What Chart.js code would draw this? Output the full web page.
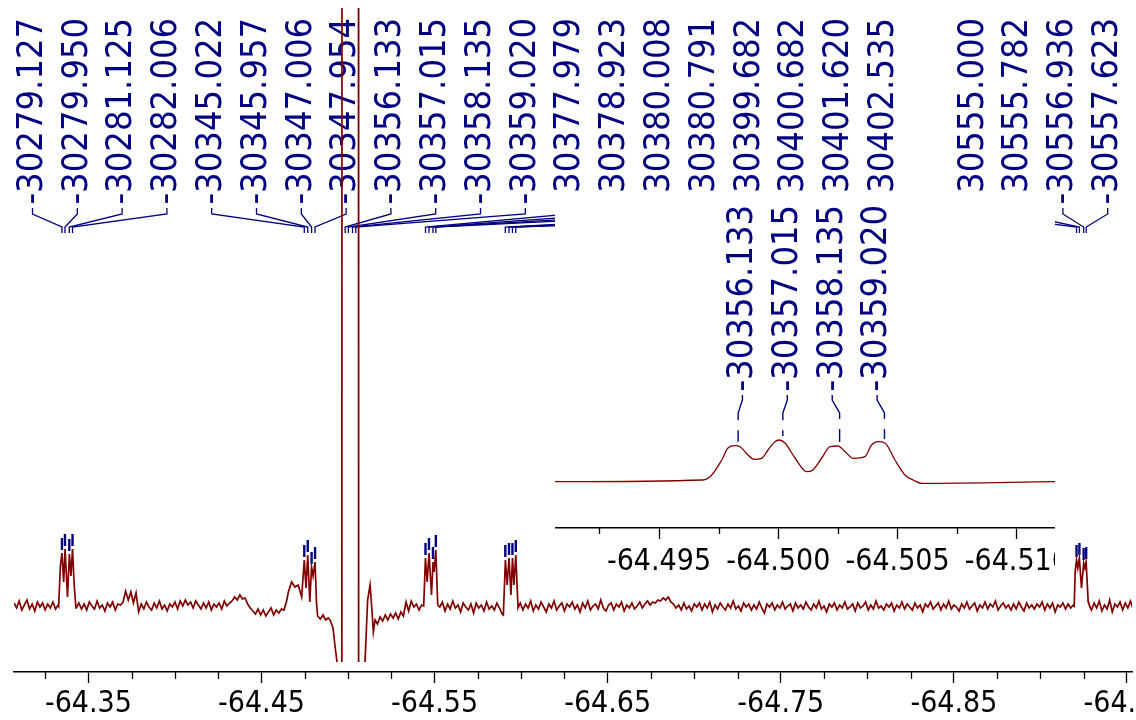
<!DOCTYPE html>
<html>
<head>
<meta charset="utf-8">
<script src="https://cdn.jsdelivr.net/npm/chart.js@4.4.1/dist/chart.umd.min.js"></script>
<style>
  html, body { margin: 0; padding: 0; background: #fff; }
  #wrap { position: relative; width: 1136px; height: 720px; overflow: hidden; }
  #main { position: absolute; left: 0; top: 0; }
  #inset { position: absolute; left: 555px; top: 193px; background: #fff; }
</style>
</head>
<body>
<div id="wrap">
  <canvas id="main" width="1136" height="720"></canvas>
  <canvas id="inset" width="500" height="400"></canvas>
</div>
<script>
// spectrometer frequency (MHz), Hz -> ppm
const SF = 470.65;

// peak picks (Hz)
const peaksA = [-30279.127, -30279.950, -30281.125, -30282.006];
const peaksB = [-30345.022, -30345.957, -30347.006, -30347.954];
const peaksC = [-30356.133, -30357.015, -30358.135, -30359.020];
const peaksD = [-30377.979, -30378.923, -30380.008, -30380.791];
const peaksE = [-30399.682, -30400.682, -30401.620, -30402.535];
const peaksF = [-30555.000, -30555.782, -30556.936, -30557.623];

// axis ticks (ppm)
const mainTicks = [-64.35, -64.45, -64.55, -64.65, -64.75, -64.85, -64.95];
const insetTicks = [-64.495, -64.500, -64.505, -64.510];

// baseline pieces, sampled every 0.0015 ppm from the given start
const noiseStep = 0.0015;
const base0Start = -64.3070;
const base0 = [3, -2, 5, -4, 1, 6, -3, 2, -5, 4, -1, 3, -4, 2, -2, 4, -3, 1];
const base1Start = -64.3430;
const base1 = [-2, 3, -3, 2, -4, 4, 0, -3, 5, -2, 1, -5, 3, -1, 4, -4, 2, 1, 4, 15,
  6, 14, 3, 13, -6, 2, -3, 4, -1, -4, 3, -2, 5, -3, 1, -5, 2, -1, 4, -3,
  5, 0, 6, 1, 4, -2, 5, 1, -3, 3, -2, 4, -4, 2, -1, 3, -3, 5, 0, 3,
  5, 9, 6, 11, 7, 8, 2, -2, -5, -8, -3, -9, -4, -10, -6, -2, -9, -4, -7, -3,
  -4, 5];
const base2Start = -64.4825;
const base2 = [-10, -13, -9, -14, -12];
const base3Start = -64.5170;
const base3 = [-18, -11, -15, -9, -14, -8, -12, -7, -13, -6, -10, 4, -5, 5, -1, 2, -4, 1];
const base4Start = -64.5530;
const base4 = [-1, 4, -5, 2, -3, 5, -2, 1, -6, 3, -1, -4, 2, -7, 3, -2, 1, -5, 4, -3,
  0, -4, 3, -2, -8];
const base5Start = -64.5995;
const base5 = [3, -4, 2, -2, 5, -5, 1, -3, 4, -1,
  -6, 2, -2, 5, -4, 0, 3, -5, 2, -1,
  4, -3, 1, -6, 3, -2, 5, -4, 0, 2,
  -3, 6, -2, -5, 1, 3, -4, 2, -1, 4,
  -5, 1, -2, 3, -3, 0, 4, -2, 2, 5,
  1, 4, 3, 6, 5, 8, 6, 9, 4, 2,
  -2, 1, -4, 3, -3, 0, -5, 2, -1, 3,
  -4, 2, -2, 4, -6, 1, -3, 3, -1, -4,
  2, -2, 5, -3, 0, -5, 3, -1, 2, -4,
  1, -3, 4, -2, -7, 2, -1, 3, -4, 1,
  -2, 4, -3, 0, 2, -5, 3, -2, 1, -3,
  4, -1, -4, 2, -2, 5, -3, 0, -6, 2,
  -1, 3, -4, 1, -2, 4, -3, -1, 2, -5,
  3, -2, 0, 4, -4, 1, -3, 5, -2, 0,
  -4, 2, -1, 3, -5, 1, -2, 4, -3, 2,
  -1, -4, 3, -2, 1, -6, 2, -1, 4, -3,
  0, 3, -4, 2, -2, 5, -3, 1, -1, -5,
  2, -2, 4, -3, 0, 3, -5, 1, -2, 4,
  -3, 2, -1, 5, -4, 0, 3, -2, 1, -4,
  2, -3, 4, -1, -5, 3, -2, 1, -3, 2,
  -1, 4, -4, 2, -2, 3, -6, 1, -1, 3,
  -3, 2, -2, 1];
const base6Start = -64.9280;
const base6 = [2, -4, 3, -2, 5, -5, 1, -3, 6, -6, 2, -1, 4, -4, 3, -2, 5, -3];

// multiplets [ppm, intensity]
const traceA = [[-64.3328, 0], [-64.3338, 40], [-64.3347, 53], [-64.3357, 24], [-64.3365, 57],
  [-64.3379, 9], [-64.3390, 52], [-64.3399, 30], [-64.3408, 57], [-64.3418, 20], [-64.3428, -2]];
const traceB = [[-64.4655, 14], [-64.4674, 24], [-64.4693, 19], [-64.4712, 21], [-64.4732, 9],
  [-64.4747, 46], [-64.4757, 18], [-64.4767, 51], [-64.4779, 4], [-64.4789, 39],
  [-64.4798, 30], [-64.4809, 44], [-64.4818, 2], [-64.4824, -10]];
const traceC = [[-64.4896, -14], [-64.4913, -22], [-64.4924, -39], [-64.4936, -56], [-64.4948, -100],
  [-64.4964, -200], [-64.4967, 3000], [-64.4982, 3300], [-64.5000, 3400], [-64.5024, 3300],
  [-64.5043, 3400], [-64.5058, 3000], [-64.5061, -200], [-64.5086, -120], [-64.5098, -56],
  [-64.5113, 6], [-64.5127, 21], [-64.5138, -4], [-64.5146, -26], [-64.5156, -14]];
const traceD = [[-64.5437, 0], [-64.5447, 48], [-64.5457, 24], [-64.5468, 53], [-64.5482, 11],
  [-64.5491, 44], [-64.5497, 34], [-64.5507, 56], [-64.5518, 1]];
const traceE = [[-64.5897, -9], [-64.5909, 46], [-64.5919, 21], [-64.5930, 48], [-64.5941, 11],
  [-64.5950, 48], [-64.5958, 21], [-64.5969, 51], [-64.5982, -2]];
const traceF = [[-64.9195, 0], [-64.9201, 35], [-64.92085, 46], [-64.9216, 38], [-64.9225, 48],
  [-64.9237, 18], [-64.9250, 43], [-64.9257, 38], [-64.9264, 44], [-64.9276, 4]];

// inset: expanded main multiplet
const insetPpm = [-64.49064, -64.49684, -64.49721, -64.49763, -64.49789, -64.49819, -64.4984,
  -64.49873, -64.49898, -64.4993, -64.49957, -64.49986, -64.50003, -64.50028, -64.5007,
  -64.50119, -64.50145, -64.50182, -64.50217, -64.5025, -64.5028, -64.50313, -64.50363,
  -64.50391, -64.50418, -64.50447, -64.50489, -64.50531, -64.50565, -64.50601, -64.5116];
const insetInt = [0, 1.7, 6.7, 21.7, 33.7, 36, 35, 26.7, 22.4, 23.4, 31.7, 40, 41.7, 38.7, 23.7,
  10, 11.7, 23.7, 35, 35.7, 30, 23.4, 25, 36.7, 40, 38.7, 21.7, 6.7, 1.7, -1.6, 0];

const NAVY = '#000080';
const RED = '#800000';
const FAMILY = "'DejaVu Sans Condensed', 'DejaVu Sans', sans-serif";
const LABEL_FONT = '36px ' + FAMILY;

// build spectrum table
const spectrum = [];
function addBase(start, vals) {
  vals.forEach((v, k) => spectrum.push({ x: start - k * noiseStep, y: v }));
}
function addTrace(pairs) {
  pairs.forEach(p => spectrum.push({ x: p[0], y: p[1] }));
}
addBase(base0Start, base0); addTrace(traceA);
addBase(base1Start, base1); addTrace(traceB);
addBase(base2Start, base2); addTrace(traceC);
addBase(base3Start, base3); addTrace(traceD);
addBase(base4Start, base4); addTrace(traceE);
addBase(base5Start, base5); addTrace(traceF);
addBase(base6Start, base6);

const insetData = insetPpm.map((p, i) => ({ x: p, y: insetInt[i] }));

function topOf(data, ppm, win) {
  let best = -Infinity;
  data.forEach(d => { if (Math.abs(d.x - ppm) <= win && d.y > best) best = d.y; });
  return best;
}

function drawRotated(ctx, text, x, y) {
  ctx.save();
  ctx.translate(x, y);
  ctx.rotate(-Math.PI / 2);
  ctx.textAlign = 'left';
  ctx.textBaseline = 'middle';
  ctx.fillText(text, 0, 0);
  ctx.restore();
}

const topLabels = {
  id: 'topLabels',
  beforeDatasetsDraw(chart) {
    const { ctx, scales: { x, y }, chartArea } = chart;
    const groups = [peaksA, peaksB, peaksC, peaksD, peaksE, peaksF];
    let slot = 0;
    ctx.save();
    ctx.fillStyle = NAVY;
    ctx.strokeStyle = NAVY;
    ctx.font = LABEL_FONT;
    groups.forEach((g, gi) => {
      if (gi === 5) slot++; // one empty slot before the last multiplet
      g.forEach(hz => {
        const sx = 32.5 + slot * 44.8;
        const ppm = hz / SF;
        const px = x.getPixelForValue(ppm);
        drawRotated(ctx, hz.toFixed(3), sx, 204.6);
        ctx.lineWidth = 1.3;
        ctx.beginPath();
        ctx.moveTo(sx, 208);
        ctx.lineTo(sx, 214);
        ctx.lineTo(px, 227);
        ctx.lineTo(px, 233);
        ctx.stroke();
        const py = y.getPixelForValue(topOf(spectrum, ppm, 0.0004));
        if (py - 16 > chartArea.top) {
          ctx.lineWidth = 2.4;
          ctx.beginPath();
          ctx.moveTo(px, py - 3);
          ctx.lineTo(px, py - 15);
          ctx.stroke();
        }
        slot++;
      });
    });
    ctx.restore();
  }
};

function minorTicks(values, len) {
  return {
    id: 'minorTicks',
    afterDraw(chart) {
      const { ctx, scales: { x } } = chart;
      const yb = chart.chartArea.bottom;
      ctx.save();
      ctx.strokeStyle = '#000';
      ctx.lineWidth = 1.3;
      values.forEach(v => {
        const px = Math.round(x.getPixelForValue(v)) + 0.5;
        ctx.beginPath();
        ctx.moveTo(px, yb);
        ctx.lineTo(px, yb + len);
        ctx.stroke();
      });
      ctx.restore();
    }
  };
}

const mainMinor = [];
for (let k = 0; k <= 26; k++) { if (k % 4 !== 1) mainMinor.push(-64.325 - k * 0.025); }
const insetMinor = [-64.4925, -64.4975, -64.5025, -64.5075];

function xAxis(min, max, ticks, digits, height, pad) {
  return {
    type: 'linear', min, max, reverse: true,
    afterBuildTicks: s => { s.ticks = ticks.map(v => ({ value: v })); },
    afterFit: s => { s.height = height; s.paddingLeft = 0; s.paddingRight = 0; },
    grid: { display: true, drawOnChartArea: false, drawTicks: true, tickLength: 11, tickColor: '#000', tickWidth: 1.3 },
    border: { display: true, color: '#000', width: 1.6 },
    ticks: {
      autoSkip: false, maxRotation: 0, padding: pad, color: '#000',
      font: { family: FAMILY, size: 30 },
      callback: v => Number(v).toFixed(digits)
    }
  };
}

new Chart(document.getElementById('main').getContext('2d'), {
  type: 'line',
  data: {
    datasets: [{
      data: spectrum, borderColor: RED, borderWidth: 1.7, pointRadius: 0,
      tension: 0, clip: { left: 0, top: 0, right: 0, bottom: -10 }
    }]
  },
  options: {
    responsive: false, animation: false, events: [],
    layout: { padding: { left: 14, right: 4, top: 8, bottom: 0 } },
    plugins: { legend: { display: false }, tooltip: { enabled: false } },
    scales: {
      x: xAxis(-64.9529, -64.3070, mainTicks, 2, 48, 3),
      y: { display: false, min: -66, max: 598 }
    }
  },
  plugins: [topLabels, minorTicks(mainMinor, 7)]
});

const insetLabels = {
  id: 'insetLabels',
  afterDatasetsDraw(chart) {
    const { ctx, scales: { x, y } } = chart;
    const pxs = peaksC.map(hz => x.getPixelForValue(hz / SF));
    const mid = pxs.reduce((a, b) => a + b, 0) / pxs.length;
    ctx.save();
    ctx.fillStyle = NAVY;
    ctx.strokeStyle = NAVY;
    ctx.font = LABEL_FONT;
    peaksC.forEach((hz, i) => {
      const sx = mid - 1.5 + (i - 1.5) * 44.9;
      const px = pxs[i];
      drawRotated(ctx, hz.toFixed(3), sx, 198.6);
      const py = y.getPixelForValue(topOf(insetData, hz / SF, 0.0002));
      ctx.lineWidth = 1.4;
      ctx.setLineDash([26, 10]);
      ctx.beginPath();
      ctx.moveTo(sx, 202);
      ctx.lineTo(sx, 207);
      ctx.lineTo(px, 220);
      ctx.lineTo(px, py - 4);
      ctx.stroke();
    });
    ctx.restore();
  }
};

new Chart(document.getElementById('inset').getContext('2d'), {
  type: 'line',
  data: {
    datasets: [{
      data: insetData, borderColor: RED, borderWidth: 1.3, pointRadius: 0,
      cubicInterpolationMode: 'monotone'
    }]
  },
  options: {
    responsive: false, animation: false, events: [],
    layout: { padding: 0 },
    plugins: { legend: { display: false }, tooltip: { enabled: false } },
    scales: {
      x: xAxis(-64.5116, -64.49064, insetTicks, 3, 65, 5),
      y: { display: false, min: -46.3, max: 288.7 }
    }
  },
  plugins: [insetLabels, minorTicks(insetMinor, 6)]
});
</script>
</body>
</html>
